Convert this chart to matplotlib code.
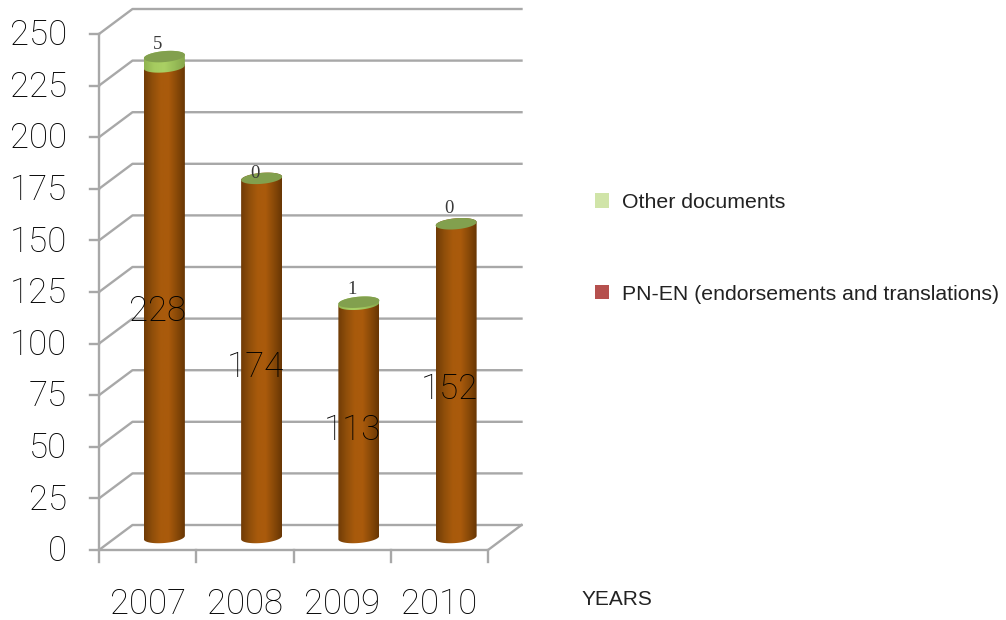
import matplotlib
matplotlib.use('Agg')
import matplotlib.pyplot as plt
import numpy as np
from matplotlib.colors import LinearSegmentedColormap
from matplotlib.patches import Patch, Polygon

# data
years = ['2007', '2008', '2009', '2010']
pn_en = [228, 174, 113, 152]
other = [5, 0, 1, 0]
y_ticks = [0, 25, 50, 75, 100, 125, 150, 175, 200, 225, 250]
legend_labels = ['Other documents', 'PN-EN (endorsements and translations)']
x_title = 'YEARS'

W, H = 1006, 620
fig = plt.figure(figsize=(W / 100, H / 100), dpi=100)
# front plane of the fake 3d box: x 99..488 px, y 550..34 px
ax = fig.add_axes([99 / W, 1 - 550 / H, (488 - 99) / W, (550 - 34) / H])
ax.set_xlim(0, 4)
ax.set_ylim(0, 250)
ax.axis('off')

# px to data units
ux = 4 / (488 - 99)
uy = 250 / (550 - 34)
depth_x = 33.5 * ux
depth_y = 25 * uy
grid_c = '#a8a8a8'
grid_lw = 1.7

# walls and floor
for v in y_ticks:
    ax.plot([0, depth_x, 4 + depth_x], [v, v + depth_y, v + depth_y], color=grid_c, lw=grid_lw, clip_on=False, zorder=1)
    ax.plot([-9 * ux, 0], [v, v], color=grid_c, lw=grid_lw, clip_on=False, zorder=1)
ax.plot([0, 0], [250, -12 * uy], color=grid_c, lw=grid_lw, clip_on=False, zorder=1)
ax.plot([0, 4, 4 + depth_x], [0, 0, depth_y], color=grid_c, lw=grid_lw, clip_on=False, zorder=1)
for i in range(1, 5):
    ax.plot([i, i], [0, -12 * uy], color=grid_c, lw=grid_lw, clip_on=False, zorder=1)

# cylinders
a = 20.5 * ux
b = 5.5 * uy
shear = 1.7 * uy
base = depth_y / 2
t = np.linspace(0, 2 * np.pi, 121)

brown = LinearSegmentedColormap.from_list('brown', ['#6f3b06', '#8f4e0a', '#a85a0c', '#aa5b0c', '#8a4a08', '#683604'])
green = LinearSegmentedColormap.from_list('green', ['#8fb350', '#a6cc60', '#aad064', '#98bd58', '#86a64c'])
grad = np.linspace(0, 1, 128).reshape(1, -1)


def ring(cx, cy):
    return np.column_stack([cx + a * np.cos(t), cy + b * np.sin(t) + shear * np.cos(t)])


def side(cx, y0, y1, cmap, z):
    # front half at the bottom, back half at the top
    lo = np.linspace(np.pi, 2 * np.pi, 60)
    hi = np.linspace(0, np.pi, 60)
    xs = np.r_[cx + a * np.cos(lo), cx + a * np.cos(hi)]
    ys = np.r_[y0 + b * np.sin(lo) + shear * np.cos(lo), y1 + b * np.sin(hi) + shear * np.cos(hi)]
    im = ax.imshow(grad, cmap=cmap, aspect='auto', extent=[cx - a, cx + a, y0 - 2 * b, y1 + 2 * b], zorder=z, clip_on=True)
    clip = Polygon(np.column_stack([xs, ys]), closed=True, transform=ax.transData, fill=False, edgecolor='none')
    ax.add_patch(clip)
    clip.set_clip_on(False)
    im.set_clip_path(clip)


big_font = dict(family='Roboto', fontsize=25, color='#000000', fontweight='light')
small_font = dict(family='Liberation Serif', fontsize=13.5, color='#3a3a3a')
small_offset = [12, 5, 13, 15]

for i in range(len(years)):
    cx = i + 0.5 + depth_x / 2
    y0 = base
    y1 = base + pn_en[i]
    y2 = y1 + other[i]
    side(cx, y0, y1, brown, 3)
    if other[i] > 0:
        side(cx, y1, y2, green, 4)
    ax.add_patch(Polygon(ring(cx, y2), closed=True, facecolor='#82a04e', edgecolor='none', zorder=5, clip_on=False))
    ax.text(cx - 6.5 * ux, y0 + pn_en[i] / 2 - 9 * uy, str(pn_en[i]), ha='center', va='center', zorder=6, **big_font)
    ax.text(cx - 7 * ux, y2 + small_offset[i] * uy, str(other[i]), ha='center', va='center', zorder=6, **small_font)

ax.set_xlim(0, 4)
ax.set_ylim(0, 250)

# tick labels
for v in y_ticks:
    ax.text(-32 * ux, v - 1.5 * uy, str(v), ha='right', va='center', clip_on=False, **big_font)
for i, yr in enumerate(years):
    ax.text(i + 0.5, -54.5 * uy, yr, ha='center', va='center', clip_on=False, **big_font)

ax.text(582 * ux - 99 * ux, -49.5 * uy, x_title, ha='left', va='center', family='Liberation Sans', fontsize=15, color='#222222')

handles = [Patch(facecolor='#d0e4a8', edgecolor='none'), Patch(facecolor='#b5504e', edgecolor='none')]
fig.legend(handles, legend_labels, loc='upper left', bbox_to_anchor=(595 / W, 1 - 193 / H), borderpad=0, borderaxespad=0,
           frameon=False, prop={'family': 'Liberation Sans', 'size': 15.3}, labelcolor='#222222',
           handlelength=0.67, handleheight=0.67, handletextpad=0.62, labelspacing=3.42)

fig.savefig('out.png', dpi=100)
